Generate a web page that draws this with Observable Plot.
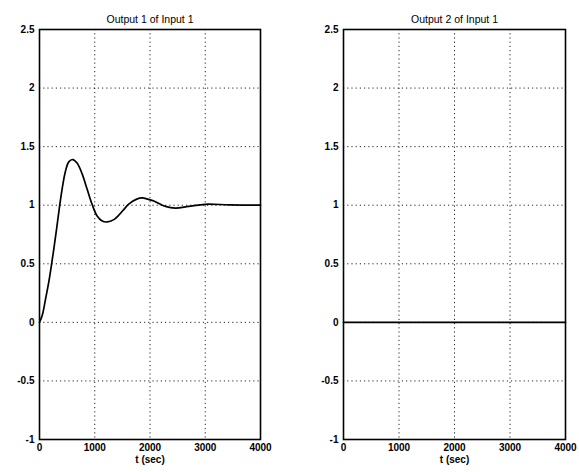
<!DOCTYPE html>
<html>
<head>
<meta charset="utf-8">
<script src="https://cdn.jsdelivr.net/npm/d3@7"></script>
<script src="https://cdn.jsdelivr.net/npm/@observablehq/plot@0.6"></script>
<style>
  html, body { margin: 0; padding: 0; background: #fff; }
  #chart { display: flex; width: 579px; height: 472px; }
  #chart svg { display: block; }
</style>
</head>
<body>
<div id="chart"></div>
<script>
// Panel titles and axis text
const titles = ["Output 1 of Input 1", "Output 2 of Input 1"];
const xLabel = "t (sec)";
const xTicks = [0, 1000, 2000, 3000, 4000];
const yTicks = [-1, -0.5, 0, 0.5, 1, 1.5, 2, 2.5];
const xGrid = [1000, 2000, 3000];
const yGrid = [-0.5, 0, 0.5, 1, 1.5, 2];

// Output 1 step response
const t1 = [0, 50, 110, 170, 210, 260, 310, 360, 410, 470, 530, 600, 680, 770, 860, 950, 1040, 1135, 1225, 1345, 1435, 1555, 1615, 1750, 1860, 1970, 2070, 2180, 2280, 2460, 2700, 3000, 3430, 4000];
const y1 = [0, 0.06, 0.2, 0.35, 0.47, 0.63, 0.8, 0.98, 1.14, 1.29, 1.37, 1.39, 1.36, 1.27, 1.14, 1.01, 0.91, 0.865, 0.857, 0.877, 0.915, 0.98, 1.01, 1.05, 1.062, 1.05, 1.036, 1.01, 0.99, 0.976, 0.99, 1.008, 1.003, 1.0];

// Output 2 step response
const t2 = [0, 1000, 2000, 3000, 4000];
const y2 = [0, 0, 0, 0, 0];

const panels = [
  {title: titles[0], t: t1, y: y1, width: 290, marginLeft: 39, marginRight: 30},
  {title: titles[1], t: t2, y: y2, width: 289, marginLeft: 53, marginRight: 14}
];

const font = "'Liberation Sans', Arial, Helvetica, sans-serif";

for (const p of panels) {
  const data = p.t.map((t, i) => ({t, v: p.y[i]}));
  const chart = Plot.plot({
    width: p.width,
    height: 472,
    marginTop: 29,
    marginBottom: 33,
    marginLeft: p.marginLeft,
    marginRight: p.marginRight,
    style: {fontFamily: font, fontSize: "10px", color: "#000", background: "#fff", overflow: "visible"},
    x: {domain: [0, 4000]},
    y: {domain: [-1, 2.5]},
    marks: [
      Plot.ruleX(xGrid, {stroke: "#000", strokeWidth: 1, strokeDasharray: "1.2,3", strokeOpacity: 0.85}),
      Plot.ruleY(yGrid, {stroke: "#000", strokeWidth: 1, strokeDasharray: "1.2,3", strokeOpacity: 0.85}),
      Plot.axisX(xTicks, {tickSize: 0, tickPadding: 4, label: null, fontWeight: "bold", tickFormat: d => String(d)}),
      Plot.axisY(yTicks, {tickSize: 0, tickPadding: 5, label: null, fontWeight: "bold", tickFormat: d => d < 0 ? "-" + Math.abs(d) : String(d)}),
      Plot.line(data, {x: "t", y: "v", stroke: "#000", strokeWidth: 1.7, curve: "catmull-rom"}),
      Plot.frame({stroke: "#000", strokeWidth: 1.6}),
      Plot.text([p.title], {frameAnchor: "top", dy: -14, fontSize: 10.5, fill: "#000"}),
      Plot.text([xLabel], {frameAnchor: "bottom", dy: 23, fontSize: 10, fontWeight: "bold", fill: "#000"})
    ]
  });
  document.getElementById("chart").appendChild(chart);
}
</script>
</body>
</html>
